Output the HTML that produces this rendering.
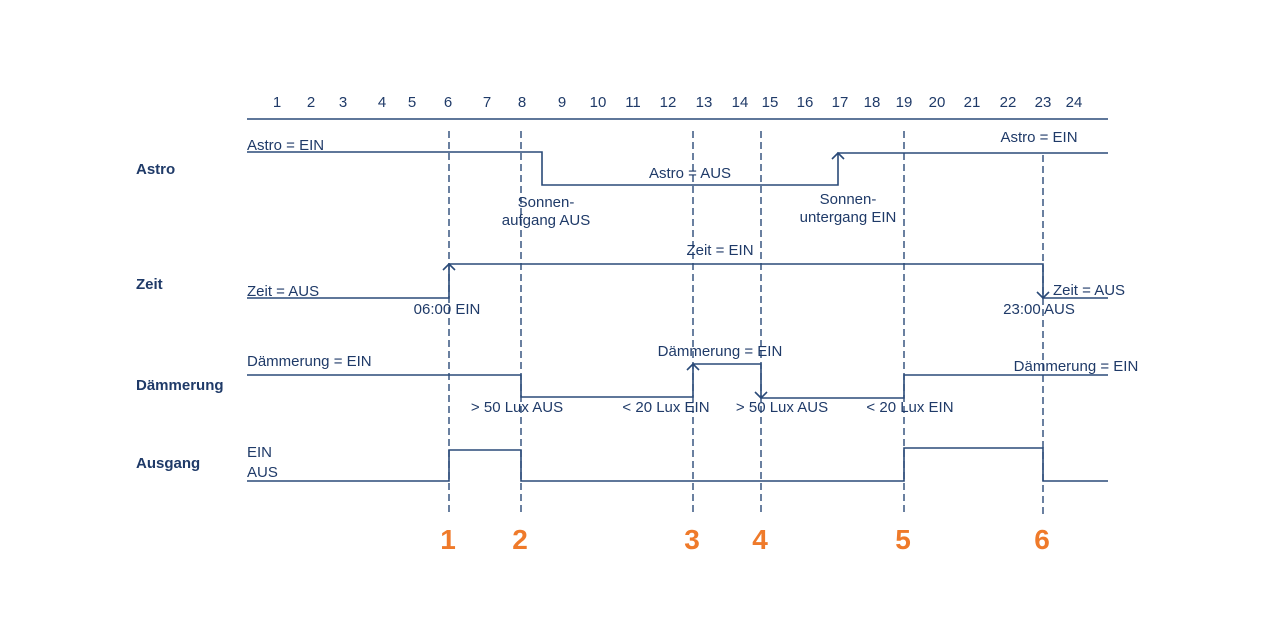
<!DOCTYPE html>
<html><head><meta charset="utf-8"><style>
html,body{margin:0;padding:0;background:#fff;}
svg{display:block;}
text{font-family:"Liberation Sans",sans-serif;fill:#1f3a68;font-size:15px;}
.b{font-weight:bold;}
.o{fill:#ef7a2a;font-weight:bold;font-size:28px;}
</style></head><body>
<svg width="1280" height="640" viewBox="0 0 1280 640">
<g text-anchor="middle">
<text x="277" y="107">1</text><text x="311" y="107">2</text><text x="343" y="107">3</text><text x="382" y="107">4</text><text x="412" y="107">5</text><text x="448" y="107">6</text><text x="487" y="107">7</text><text x="522" y="107">8</text><text x="562" y="107">9</text><text x="598" y="107">10</text><text x="633" y="107">11</text><text x="668" y="107">12</text><text x="704" y="107">13</text><text x="740" y="107">14</text><text x="770" y="107">15</text><text x="805" y="107">16</text><text x="840" y="107">17</text><text x="872" y="107">18</text><text x="904" y="107">19</text><text x="937" y="107">20</text><text x="972" y="107">21</text><text x="1008" y="107">22</text><text x="1043" y="107">23</text><text x="1074" y="107">24</text>
</g>
<g stroke="#2a4a78" stroke-width="1.6" fill="none">
<line x1="247" y1="119" x2="1108" y2="119"/>
<polyline points="247,152 542,152 542,185 838,185 838,153 1108,153"/>
<polyline points="247,298 449,298 449,264 1043,264 1043,298 1108,298"/>
<polyline points="247,375 521,375 521,397 693,397 693,364 761,364 761,398 904,398 904,375 1108,375"/>
<polyline points="247,481 449,481 449,450 521,450 521,481 904,481 904,448 1043,448 1043,481 1108,481"/>
<polyline points="832,159 838,153 844,159"/>
<polyline points="443,270 449,264 455,270"/>
<polyline points="1037,292 1043,298 1049,292"/>
<polyline points="687,370 693,364 699,370"/>
<polyline points="755,392 761,398 767,392"/>
</g>
<g stroke="#2a4a78" stroke-width="1.4" stroke-dasharray="7,4">
<line x1="449" y1="131" x2="449" y2="516"/>
<line x1="521" y1="131" x2="521" y2="516"/>
<line x1="693" y1="131" x2="693" y2="516"/>
<line x1="761" y1="131" x2="761" y2="516"/>
<line x1="904" y1="131" x2="904" y2="516"/>
<line x1="1043" y1="155" x2="1043" y2="516"/>
</g>
<text class="b" x="136" y="174">Astro</text>
<text class="b" x="136" y="289">Zeit</text>
<text class="b" x="136" y="390">Dämmerung</text>
<text class="b" x="136" y="468">Ausgang</text>
<text x="247" y="150">Astro = EIN</text>
<text x="247" y="296">Zeit = AUS</text>
<text x="247" y="366">Dämmerung = EIN</text>
<text x="247" y="457">EIN</text>
<text x="247" y="477">AUS</text>
<g text-anchor="middle">
<text x="690" y="178">Astro = AUS</text>
<text x="546" y="207">Sonnen-</text>
<text x="546" y="225">aufgang AUS</text>
<text x="848" y="204">Sonnen-</text>
<text x="848" y="222">untergang EIN</text>
<text x="1039" y="142">Astro = EIN</text>
<text x="720" y="255">Zeit = EIN</text>
<text x="447" y="314">06:00 EIN</text>
<text x="1039" y="314">23:00 AUS</text>
<text x="1089" y="295">Zeit = AUS</text>
<text x="720" y="356">Dämmerung = EIN</text>
<text x="1076" y="371">Dämmerung = EIN</text>
<text x="517" y="412">&gt; 50 Lux AUS</text>
<text x="666" y="412">&lt; 20 Lux EIN</text>
<text x="782" y="412">&gt; 50 Lux AUS</text>
<text x="910" y="412">&lt; 20 Lux EIN</text>
<text class="o" x="448" y="549">1</text>
<text class="o" x="520" y="549">2</text>
<text class="o" x="692" y="549">3</text>
<text class="o" x="760" y="549">4</text>
<text class="o" x="903" y="549">5</text>
<text class="o" x="1042" y="549">6</text>
</g>
</svg>
</body></html>
